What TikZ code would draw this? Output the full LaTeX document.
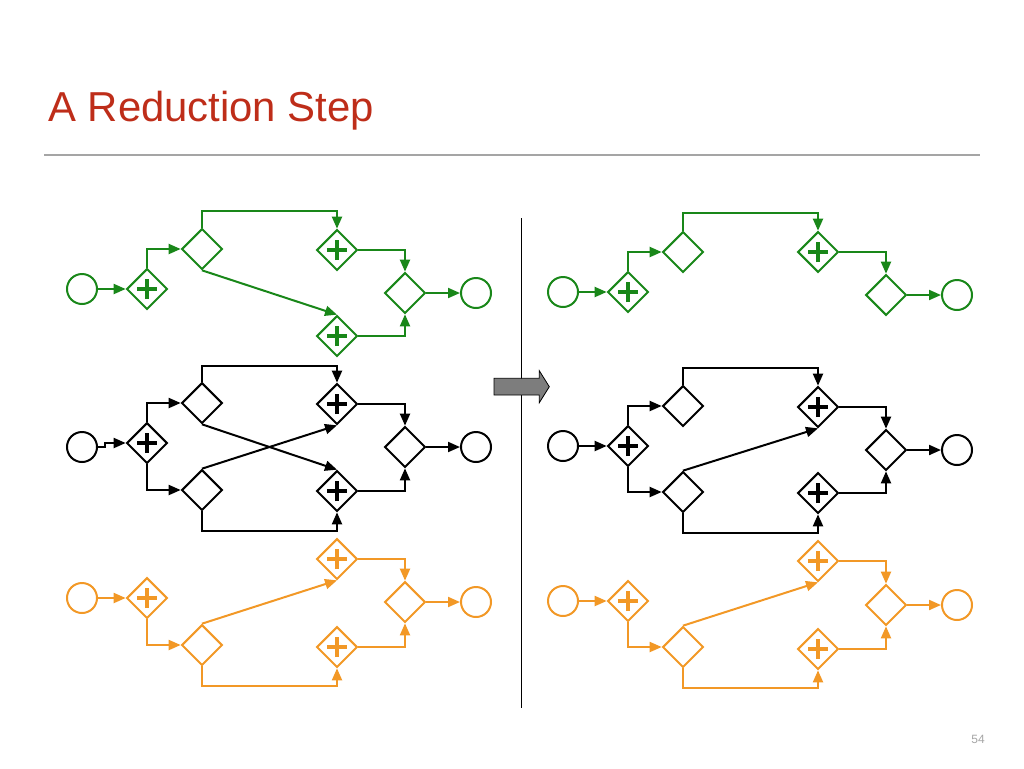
\documentclass[tikz,border=0pt]{standalone}
\usepackage{fontspec}
\setmainfont{Liberation Sans}
\usetikzlibrary{shapes.geometric,arrows.meta}
\definecolor{ggreen}{RGB}{25,135,25}
\definecolor{gorange}{RGB}{242,152,38}
\definecolor{gblack}{RGB}{0,0,0}
\definecolor{titlered}{RGB}{190,45,25}
\definecolor{rulegray}{RGB}{165,165,165}
\definecolor{arrgray}{RGB}{125,125,125}
\tikzset{
  evt/.style={circle, draw, line width=1.5pt, minimum size=22.5pt, inner sep=0pt},
  xorgw/.style={diamond, draw, line width=1.5pt, minimum width=30.5pt, minimum height=30.5pt, inner sep=0pt},
  andgw/.style={xorgw, path picture={
      \draw[line width=3.6pt, line cap=butt]
        ([xshift=-7.5pt]path picture bounding box.center) -- ([xshift=7.5pt]path picture bounding box.center)
        ([yshift=-7.5pt]path picture bounding box.center) -- ([yshift=7.5pt]path picture bounding box.center);}},
  flow/.style={line width=1.5pt, -{Triangle[length=9pt,width=7.5pt]}},
}
\begin{document}
\begin{tikzpicture}[x=0.75pt,y=-0.75pt]
\useasboundingbox (0,0) rectangle (1024,768);
% title
\node[anchor=base west, inner sep=0pt, text=titlered, font=\fontsize{31.4pt}{36pt}\selectfont] (title) at (48,121.7) {A Reduction Step};
\draw[rulegray, line width=1.5pt] (44,155) -- (980,155);
% separator and block arrow
\draw[line width=0.75pt] (521.5,218) -- (521.5,708);
\filldraw[fill=arrgray, draw=black, line width=0.6pt]
  (494,378.3) -- (539.3,378.3) -- (539.3,370.7) -- (549.3,386.7) -- (539.3,402.7) -- (539.3,395) -- (494,395) -- cycle;
\node[text=rulegray, font=\fontsize{9pt}{10pt}\selectfont, inner sep=0pt] (pagenum) at (978,739) {54};

% ===== left green =====
\begin{scope}[color=ggreen]
\node[evt] (gs) at (82,289) {};
\node[andgw] (gp1) at (147,289) {};
\node[xorgw] (gx1) at (202,249) {};
\node[andgw] (gp2) at (337,250) {};
\node[andgw] (gp3) at (337,336) {};
\node[xorgw] (gx2) at (405,293) {};
\node[evt] (ge) at (476,293) {};
\draw[flow] (gs) -- (gp1);
\draw[flow] (gp1.north) |- (gx1.west);
\draw[flow] (gx1.north) -- (gx1.north |- 0,211) -| (gp2.north);
\draw[flow] (gx1.south) -- (gp3.north);
\draw[flow] (gp2.east) -| (gx2.north);
\draw[flow] (gp3.east) -| (gx2.south);
\draw[flow] (gx2) -- (ge);
\end{scope}

% ===== left black =====
\begin{scope}[color=gblack]
\node[evt] (bs) at (82,447) {};
\node[andgw] (bp1) at (147,443) {};
\node[xorgw] (bxa) at (202,403) {};
\node[xorgw] (bxb) at (202,490) {};
\node[andgw] (bpc) at (337,404) {};
\node[andgw] (bpd) at (337,491) {};
\node[xorgw] (bxm) at (405,447) {};
\node[evt] (be) at (476,447) {};
\draw[flow] (bs.east) -- ++(7,0) |- (bp1.west);
\draw[flow] (bp1.north) |- (bxa.west);
\draw[flow] (bp1.south) |- (bxb.west);
\draw[flow] (bxa.north) -- (bxa.north |- 0,366) -| (bpc.north);
\draw[flow] (bxa.south) -- (bpd.north);
\draw[flow] (bxb.north) -- (bpc.south);
\draw[flow] (bxb.south) -- (bxb.south |- 0,531) -| (bpd.south);
\draw[flow] (bpc.east) -| (bxm.north);
\draw[flow] (bpd.east) -| (bxm.south);
\draw[flow] (bxm) -- (be);
\end{scope}

% ===== left orange =====
\begin{scope}[color=gorange]
\node[evt] (os) at (82,598) {};
\node[andgw] (op1) at (147,598) {};
\node[xorgw] (oxa) at (202,645) {};
\node[andgw] (opt) at (337,559) {};
\node[andgw] (opb) at (337,647) {};
\node[xorgw] (oxm) at (405,602) {};
\node[evt] (oe) at (476,602) {};
\draw[flow] (os) -- (op1);
\draw[flow] (op1.south) |- (oxa.west);
\draw[flow] (oxa.north) -- (opt.south);
\draw[flow] (oxa.south) -- (oxa.south |- 0,686) -| (opb.south);
\draw[flow] (opt.east) -| (oxm.north);
\draw[flow] (opb.east) -| (oxm.south);
\draw[flow] (oxm) -- (oe);
\end{scope}

% ===== right green =====
\begin{scope}[color=ggreen]
\node[evt] (rgs) at (563,292) {};
\node[andgw] (rgp1) at (628,292) {};
\node[xorgw] (rgx1) at (683,252) {};
\node[andgw] (rgp2) at (818,252) {};
\node[xorgw] (rgx2) at (886,295) {};
\node[evt] (rge) at (957,295) {};
\draw[flow] (rgs) -- (rgp1);
\draw[flow] (rgp1.north) |- (rgx1.west);
\draw[flow] (rgx1.north) -- (rgx1.north |- 0,213) -| (rgp2.north);
\draw[flow] (rgp2.east) -| (rgx2.north);
\draw[flow] (rgx2) -- (rge);
\end{scope}

% ===== right black =====
\begin{scope}[color=gblack]
\node[evt] (rbs) at (563,446) {};
\node[andgw] (rbp1) at (628,446) {};
\node[xorgw] (rbxa) at (683,406) {};
\node[xorgw] (rbxb) at (683,492) {};
\node[andgw] (rbpc) at (818,407) {};
\node[andgw] (rbpd) at (818,493) {};
\node[xorgw] (rbxm) at (886,450) {};
\node[evt] (rbe) at (957,450) {};
\draw[flow] (rbs) -- (rbp1);
\draw[flow] (rbp1.north) |- (rbxa.west);
\draw[flow] (rbp1.south) |- (rbxb.west);
\draw[flow] (rbxa.north) -- (rbxa.north |- 0,368) -| (rbpc.north);
\draw[flow] (rbxb.north) -- (rbpc.south);
\draw[flow] (rbxb.south) -- (rbxb.south |- 0,533) -| (rbpd.south);
\draw[flow] (rbpc.east) -| (rbxm.north);
\draw[flow] (rbpd.east) -| (rbxm.south);
\draw[flow] (rbxm) -- (rbe);
\end{scope}

% ===== right orange =====
\begin{scope}[color=gorange]
\node[evt] (ros) at (563,601) {};
\node[andgw] (rop1) at (628,601) {};
\node[xorgw] (roxa) at (683,647) {};
\node[andgw] (ropt) at (818,561) {};
\node[andgw] (ropb) at (818,649) {};
\node[xorgw] (roxm) at (886,605) {};
\node[evt] (roe) at (957,605) {};
\draw[flow] (ros) -- (rop1);
\draw[flow] (rop1.south) |- (roxa.west);
\draw[flow] (roxa.north) -- (ropt.south);
\draw[flow] (roxa.south) -- (roxa.south |- 0,688) -| (ropb.south);
\draw[flow] (ropt.east) -| (roxm.north);
\draw[flow] (ropb.east) -| (roxm.south);
\draw[flow] (roxm) -- (roe);
\end{scope}
\end{tikzpicture}
\end{document}
